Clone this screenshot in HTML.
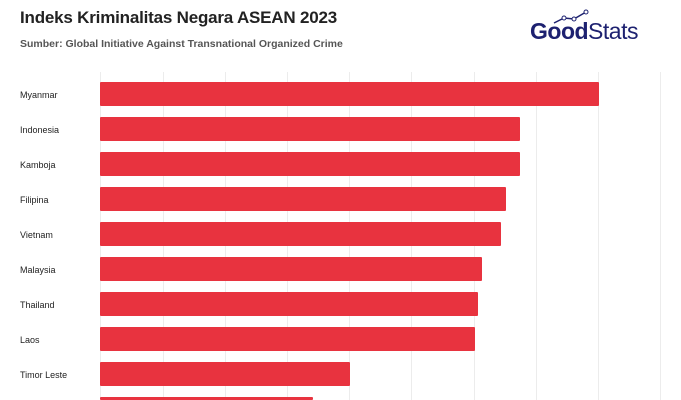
<!DOCTYPE html>
<html style="margin:0;width:681px;height:400px;overflow:hidden"><head><style>
body{margin:0;width:681px;height:400px;background:#fff;position:relative;overflow:hidden;font-family:"Liberation Sans",sans-serif}
.t{position:absolute;left:20px;top:8px;font-size:17px;color:#222;font-weight:bold;letter-spacing:-0.2px}
.s{position:absolute;left:20px;top:38px;font-size:10.5px;color:#555;font-weight:bold}
.g{position:absolute;top:72px;height:328px;width:1px;background:#ececec}
.b{position:absolute;left:100px;height:24px;background:#e8333f;border-radius:1px}
.l{position:absolute;left:20px;font-size:9px;color:#222}
.logo{position:absolute;left:530px;top:18px;font-size:23px;color:#1d2170;letter-spacing:-0.5px}
</style></head><body>
<div class="t">Indeks Kriminalitas Negara ASEAN 2023</div>
<div class="s">Sumber: Global Initiative Against Transnational Organized Crime</div>
<div class="logo"><b>Good</b>Stats</div>
<svg style="position:absolute;left:550px;top:9px" width="44" height="16"><polyline points="4,14 14,9 24,10 36,3" fill="none" stroke="#1d2170" stroke-width="1.5"/><circle cx="14" cy="9" r="2" fill="#fff" stroke="#1d2170"/><circle cx="24" cy="10" r="2" fill="#fff" stroke="#1d2170"/><circle cx="36" cy="3" r="2" fill="#fff" stroke="#1d2170"/></svg>
<div class="g" style="left:100px"></div><div class="g" style="left:163px"></div><div class="g" style="left:225px"></div><div class="g" style="left:287px"></div><div class="g" style="left:349px"></div><div class="g" style="left:411px"></div><div class="g" style="left:474px"></div><div class="g" style="left:536px"></div><div class="g" style="left:598px"></div><div class="g" style="left:660px"></div>
<div class="b" style="top:82px;width:499px"></div><div class="l" style="top:90px">Myanmar</div>
<div class="b" style="top:117px;width:420px"></div><div class="l" style="top:125px">Indonesia</div>
<div class="b" style="top:152px;width:420px"></div><div class="l" style="top:160px">Kamboja</div>
<div class="b" style="top:187px;width:406px"></div><div class="l" style="top:195px">Filipina</div>
<div class="b" style="top:222px;width:401px"></div><div class="l" style="top:230px">Vietnam</div>
<div class="b" style="top:257px;width:382px"></div><div class="l" style="top:265px">Malaysia</div>
<div class="b" style="top:292px;width:378px"></div><div class="l" style="top:300px">Thailand</div>
<div class="b" style="top:327px;width:375px"></div><div class="l" style="top:335px">Laos</div>
<div class="b" style="top:362px;width:250px"></div><div class="l" style="top:370px">Timor Leste</div>
<div class="b" style="top:397px;height:3px;width:213px"></div>
</body></html>
